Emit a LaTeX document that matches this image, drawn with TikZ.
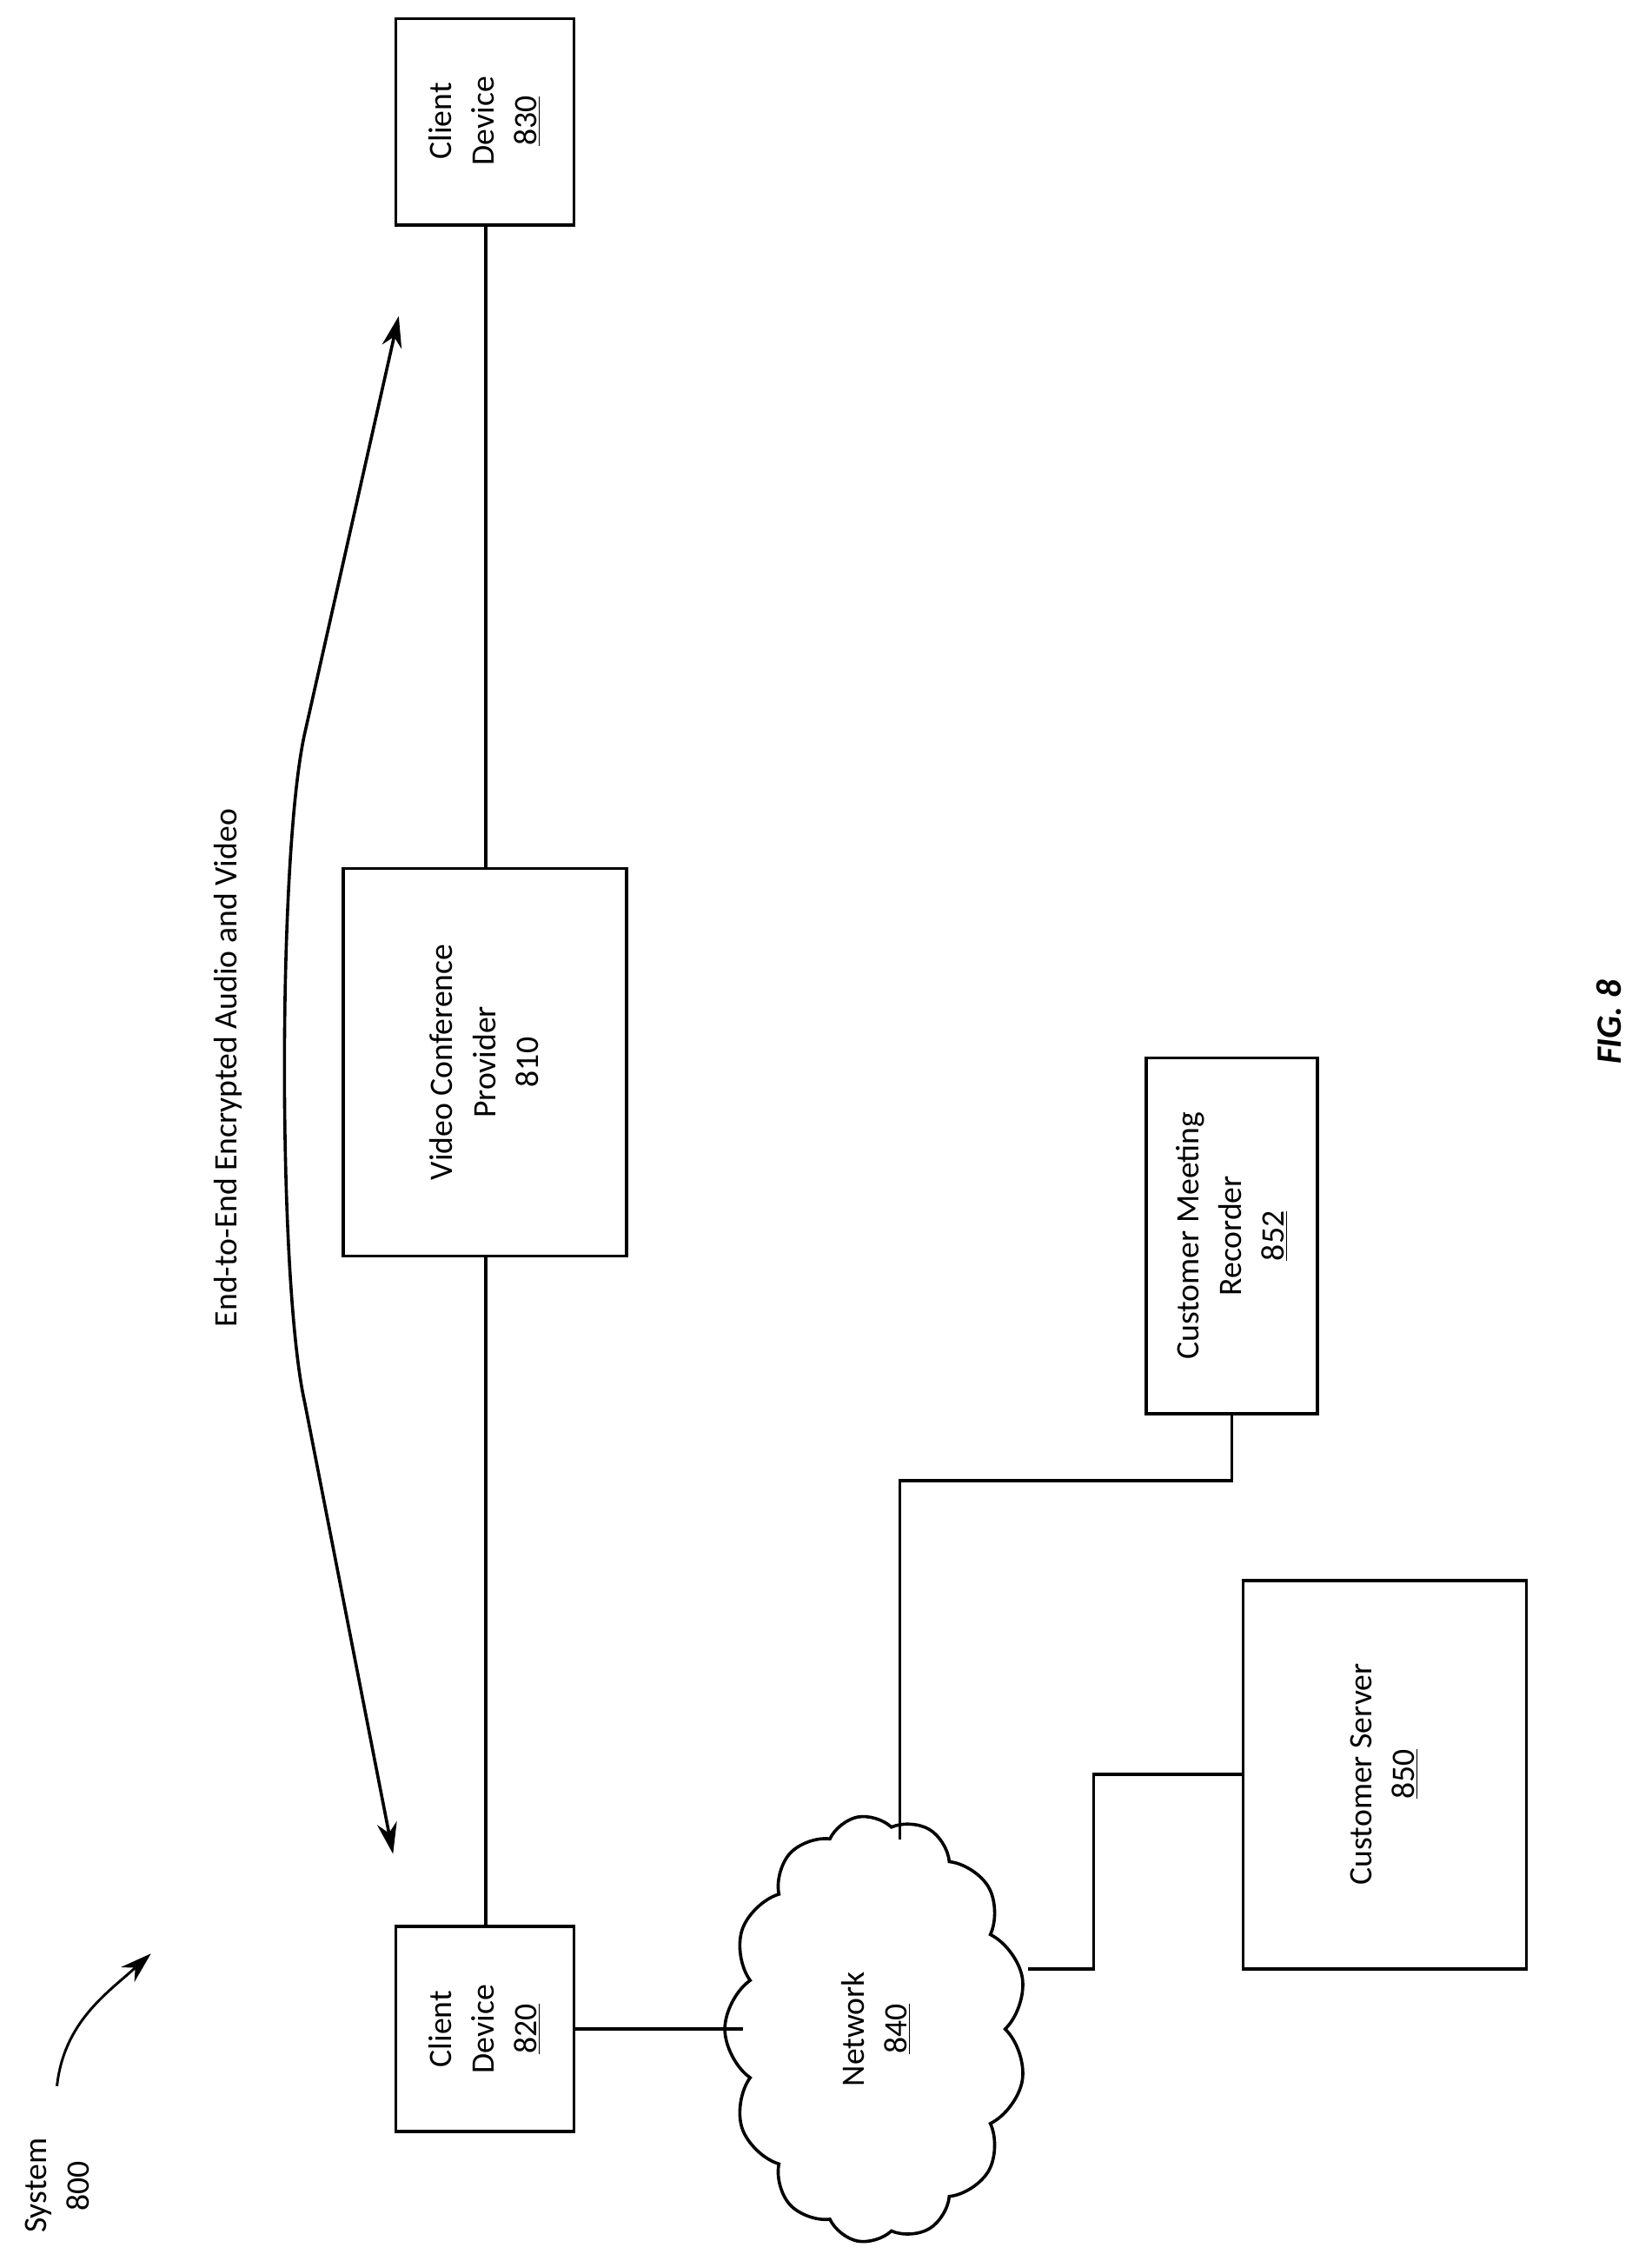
\documentclass[tikz,border=0pt]{standalone}
\usepackage{fontspec}
\setmainfont{Carlito}
\usetikzlibrary{shapes.symbols,arrows.meta}
\begin{document}
\begin{tikzpicture}[x=1pt,y=-1pt,line width=2.2pt,
  box/.style={draw,line width=2.2pt},
  lbl/.style={rotate=90,align=center,font=\fontsize{23}{30}\selectfont},
  tip/.style={-{Stealth[length=22pt,width=14pt]}}]
\useasboundingbox (0,0) rectangle (1160,1583);
\draw[box] (278,13) rectangle (403,158) coordinate (c830br);
\node[lbl] (t830) at (340,85) {Client\\Device\\\underline{830}};
\coordinate (c830b) at (341,158);
\draw[box] (241,610) rectangle (440,882);
\node[lbl] (vcp) at (340,746) {Video Conference\\Provider\\810};
\coordinate (vcpt) at (341,610); \coordinate (vcpb) at (341,882);
\draw[box] (278,1353) rectangle (403,1497);
\node[lbl] (t820) at (340,1425) {Client\\Device\\\underline{820}};
\coordinate (c820t) at (341,1353); \coordinate (c820r) at (403,1425);
\draw (c830b) -- (vcpt); \draw (vcpb) -- (c820t);
\node[cloud,draw,line width=2.2pt,cloud puffs=13,cloud puff arc=110,aspect=1.45,minimum width=300pt,minimum height=212pt,rotate=90] (cloud) at (615,1425) {};
\node[lbl] (net) at (615,1425) {Network\\\underline{840}};
\draw (c820r) -- (522,1425);
\draw[box] (805,743) rectangle (925,993);
\node[lbl] (rec) at (865,868) {Customer Meeting\\Recorder\\\underline{852}};
\draw (865,993) -- (865,1040) -- (632,1040) -- (632,1292);
\draw[box] (873,1110) rectangle (1072,1383);
\node[lbl] (srv) at (972,1246) {Customer Server\\\underline{850}};
\draw (722,1383) -- (768,1383) -- (768,1246) -- (873,1246);
\draw[{Stealth[length=22pt,width=14pt]}-{Stealth[length=22pt,width=14pt]}] (280,222) -- (214,515) .. controls (195,600) and (195,900) .. (214,985) -- (276,1302);
\node[lbl] (e2e) at (160,750) {End-to-End Encrypted Audio and Video};
\node[lbl,align=left,anchor=center] (sys) at (40,1535) {System\\\ \ \ 800};
\draw[tip,line width=1.8pt] (40,1465) .. controls (45,1420) and (75,1400) .. (106,1372);
\node[lbl,font=\fontsize{25}{30}\selectfont\bfseries\itshape] (fig) at (1130,718) {FIG. 8};
\end{tikzpicture}
\end{document}
